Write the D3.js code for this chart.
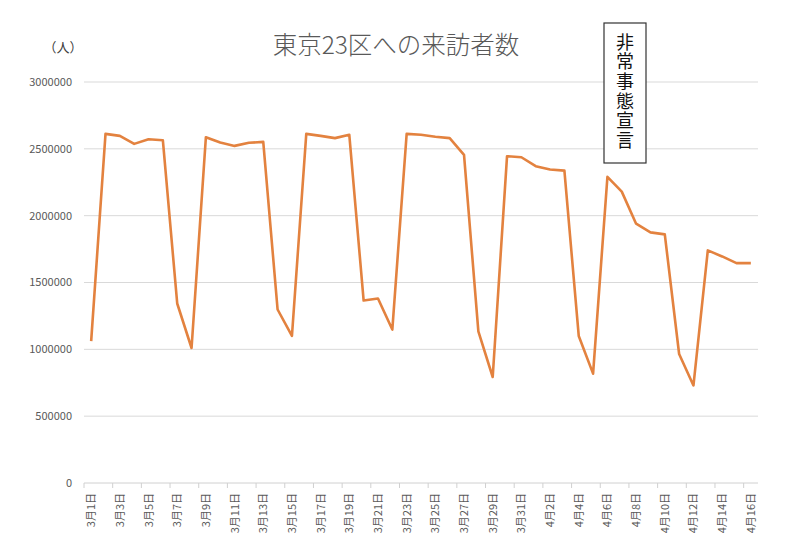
<!DOCTYPE html>
<html><head><meta charset="utf-8">
<script src="https://cdn.jsdelivr.net/npm/d3@7"></script>
<style>body{margin:0;background:#fff}svg{display:block}</style>
</head><body>
<svg id="c" width="800" height="550"></svg>
<script>
const dates = [
 "3月1日","3月2日","3月3日","3月4日","3月5日","3月6日","3月7日","3月8日","3月9日","3月10日",
 "3月11日","3月12日","3月13日","3月14日","3月15日","3月16日","3月17日","3月18日","3月19日","3月20日",
 "3月21日","3月22日","3月23日","3月24日","3月25日","3月26日","3月27日","3月28日","3月29日","3月30日",
 "3月31日","4月1日","4月2日","4月3日","4月4日","4月5日","4月6日","4月7日","4月8日","4月9日",
 "4月10日","4月11日","4月12日","4月13日","4月14日","4月15日","4月16日"];
const visitors = [
 1062000,2612000,2597000,2537000,2572000,2564000,1343000,1010000,2587000,2547000,
 2522000,2545000,2552000,1298000,1100000,2612000,2597000,2580000,2605000,1365000,
 1380000,1148000,2612000,2605000,2590000,2580000,2455000,1135000,793000,2445000,
 2437000,2370000,2345000,2337000,1100000,818000,2290000,2180000,1940000,1875000,
 1860000,965000,730000,1740000,1695000,1645000,1645000];
const yTicks = [0,500000,1000000,1500000,2000000,2500000,3000000];
const title = "東京23区への来訪者数";
const unitLabel = "（人）";
const annotation = "非常事態宣言";

const svg = d3.select("#c");
const font = "'Noto Sans CJK JP','Noto Sans',sans-serif";
const x = d3.scaleBand().domain(dates).range([84, 758]).padding(0);
const y = d3.scaleLinear().domain([0, 3000000]).range([483, 82]);
const cx = d => x(d) + x.bandwidth()/2;

// gridlines
svg.append("g").selectAll("line").data(yTicks.filter(v=>v>0)).join("line")
  .attr("x1",84).attr("x2",758).attr("y1",d=>y(d)).attr("y2",d=>y(d))
  .attr("stroke","#d9d9d9").attr("stroke-width",1);

// y labels
svg.append("g").selectAll("text").data(yTicks).join("text")
  .attr("x",72).attr("y",d=>y(d)).attr("dy","0.35em").attr("text-anchor","end")
  .attr("font-family",font).attr("font-size",11).attr("fill","#595959").text(d=>d);

// x axis
const xa = svg.append("g").attr("transform","translate(0,483)");
xa.append("line").attr("x1",84).attr("x2",758).attr("stroke","#d0d0d0").attr("stroke-width",1);
const tickIdx = d3.range(0, dates.length, 2);
xa.selectAll("line.t").data(tickIdx).join("line").attr("class","t")
  .attr("x1",i=>x(dates[i])).attr("x2",i=>x(dates[i])).attr("y1",0).attr("y2",5)
  .attr("stroke","#d0d0d0");
xa.selectAll("text").data(tickIdx).join("text")
  .attr("transform",i=>`translate(${cx(dates[i])+4},10) rotate(-90)`)
  .attr("text-anchor","end").attr("font-family",font).attr("font-size",11)
  .attr("fill","#595959").text(i=>dates[i]);

// line
const line = d3.line().x((d,i)=>cx(dates[i])).y(d=>y(d));
svg.append("path").datum(visitors).attr("d",line).attr("fill","none")
  .attr("stroke","#E3823F").attr("stroke-width",2.6).attr("stroke-linejoin","round");

// title
svg.append("text").attr("x",396).attr("y",54).attr("text-anchor","middle")
  .attr("font-family",font).attr("font-size",24.5).attr("font-weight",300)
  .attr("fill","#595959").text(title);
svg.append("text").attr("x",63).attr("y",52).attr("text-anchor","middle")
  .attr("font-family",font).attr("font-size",13).attr("fill","#404040").text(unitLabel);

// annotation box
svg.append("rect").attr("x",604).attr("y",23).attr("width",42).attr("height",140)
  .attr("fill","#fff").attr("stroke","#333").attr("stroke-width",1.2);
svg.append("text").attr("x",625).attr("y",33)
  .style("writing-mode","vertical-rl").style("letter-spacing","1.6px")
  .attr("font-family",font).attr("font-size",18)
  .attr("fill","#111").text(annotation);
</script>
</body></html>
